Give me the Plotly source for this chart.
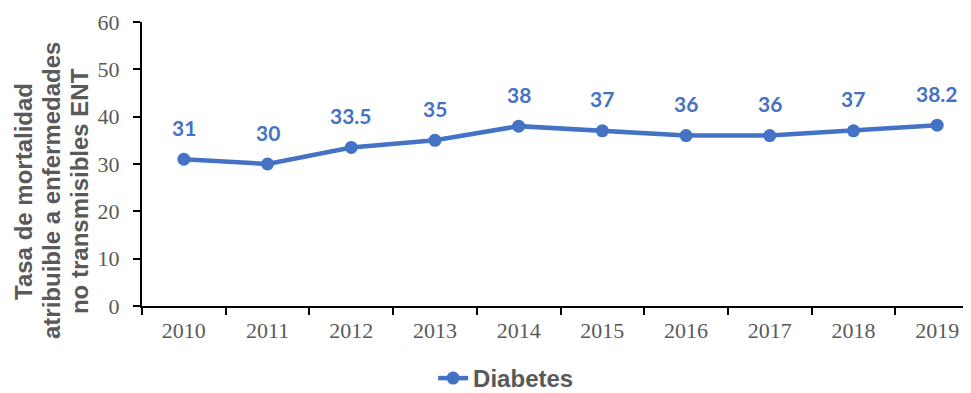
import plotly.graph_objects as go

# Data
years = ["2010", "2011", "2012", "2013", "2014", "2015", "2016", "2017", "2018", "2019"]
diabetes = [31, 30, 33.5, 35, 38, 37, 36, 36, 37, 38.2]
label_text = ["31", "30", "33.5", "35", "38", "37", "36", "36", "37", "38.2"]
ytitle_lines = ["Tasa de mortalidad", "atribuible a enfermedades", "no transmisibles ENT"]

BLUE = "#4472C4"
GRAY = "#595959"

fig = go.Figure()

fig.add_trace(go.Scatter(
    x=years,
    y=diabetes,
    mode="lines+markers",
    name="<b>Diabetes</b>",
    line=dict(color=BLUE, width=4.5),
    marker=dict(color=BLUE, size=13),
))

# data labels above the points (category index used as x)
for i, (val, txt) in enumerate(zip(diabetes, label_text)):
    fig.add_annotation(
        x=i, y=val, text="<b>" + txt + "</b>", showarrow=False,
        xanchor="center", yanchor="middle",
        yshift=32,
        font=dict(family="Lato", size=21, color=BLUE),
    )

# y-axis title, one annotation per line to control the line spacing
for k, line in enumerate(ytitle_lines):
    fig.add_annotation(
        xref="paper", yref="paper", x=-0.141 + k * 0.0335, y=0.405,
        xanchor="center", yanchor="middle",
        text="<b>" + line + "</b>",
        showarrow=False, textangle=-90, borderpad=0,
        font=dict(family="Liberation Sans", size=24, color=GRAY),
    )

fig.update_layout(
    width=971,
    height=393,
    margin=dict(l=134, r=0, t=14, b=95),
    plot_bgcolor="white",
    paper_bgcolor="white",
    showlegend=True,
    legend=dict(
        orientation="h",
        xref="container", yref="container",
        x=0.513, xanchor="center",
        y=-0.03, yanchor="bottom",
        font=dict(family="Liberation Sans", size=24, color=GRAY),
    ),
    xaxis=dict(
        type="category",
        range=[-0.5, 9.5],
        showline=True, linecolor="black", linewidth=2,
        ticks="outside", ticklen=7, tickcolor="black", tickwidth=2,
        tickson="boundaries",
        ticklabelstandoff=4,
        showgrid=False,
        tickfont=dict(family="Liberation Serif", size=22, color=GRAY),
    ),
    yaxis=dict(
        range=[0, 60],
        dtick=10,
        showline=True, linecolor="black", linewidth=2,
        ticks="outside", ticklen=7, tickcolor="black", tickwidth=2,
        ticklabelstandoff=9,
        showgrid=False,
        zeroline=False,
        tickfont=dict(family="Liberation Serif", size=22, color=GRAY),
    ),
)

fig.write_html("out.html")
